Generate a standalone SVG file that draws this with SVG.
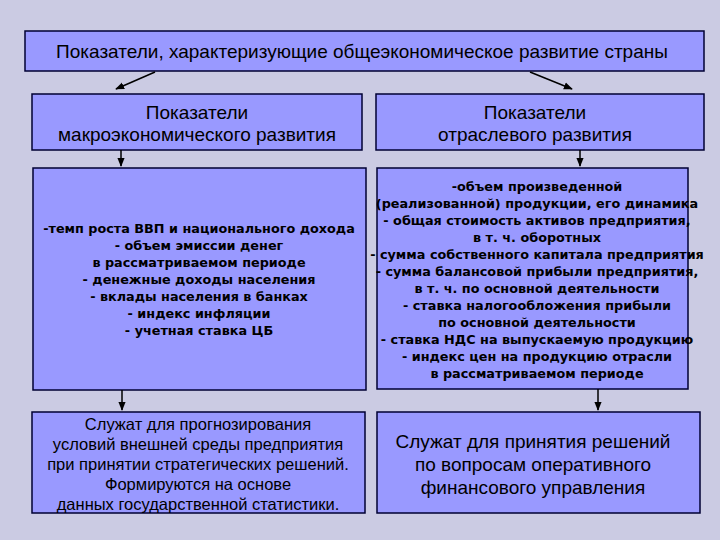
<svg xmlns="http://www.w3.org/2000/svg" width="720" height="540" viewBox="0 0 720 540">
<defs>
<marker id="ah" viewBox="0 0 10 10" refX="9" refY="5" markerWidth="6" markerHeight="6" orient="auto"><path d="M0,1 L10,5 L0,9 z" fill="#000"/></marker>
<style>
.b{fill:#9999ff;stroke:#000033;stroke-width:1.5}
.t{font-family:"Liberation Sans",Arial,sans-serif;fill:#000;text-anchor:middle}
.h{font-size:19px}
.s{font-family:"DejaVu Sans",sans-serif;font-size:12.8px;font-weight:bold}
.m{font-size:16.5px}
.c line{stroke:#000;stroke-width:1.5;marker-end:url(#ah)}
</style>
</defs>
<rect width="720" height="540" fill="#cbcbe3"/>
<g id="top"><rect class="b" x="25" y="31" width="679" height="40"/><text class="t h" x="362" y="58">Показатели, характеризующие общеэкономическое развитие страны</text></g>
<g id="macro"><rect class="b" x="32" y="94" width="330" height="56"/><text class="t h" x="197" y="119">Показатели</text><text class="t h" x="197" y="141">макроэкономического развития</text></g>
<g id="branch"><rect class="b" x="376" y="94" width="328" height="56"/><text class="t h" x="535" y="119">Показатели</text><text class="t h" x="535" y="141">отраслевого развития</text></g>
<g id="macrolist"><rect class="b" x="33" y="168" width="333" height="222"/>
<text class="t s" x="199" y="233">-темп роста ВВП и национального дохода</text>
<text class="t s" x="199" y="250">- объем эмиссии денег</text>
<text class="t s" x="199" y="267">в рассматриваемом периоде</text>
<text class="t s" x="199" y="284">- денежные доходы населения</text>
<text class="t s" x="199" y="301">- вклады населения в банках</text>
<text class="t s" x="199" y="318">- индекс инфляции</text>
<text class="t s" x="199" y="335">- учетная ставка ЦБ</text></g>
<g id="branchlist"><rect class="b" x="377" y="168" width="311" height="221"/>
<text class="t s" x="537" y="191">-объем произведенной</text>
<text class="t s" x="537" y="208">(реализованной) продукции, его динамика</text>
<text class="t s" x="537" y="225">- общая стоимость активов предприятия,</text>
<text class="t s" x="537" y="242">в т. ч. оборотных</text>
<text class="t s" x="537" y="259">- сумма собственного капитала предприятия</text>
<text class="t s" x="537" y="276">- сумма балансовой прибыли предприятия,</text>
<text class="t s" x="537" y="293">в т. ч. по основной деятельности</text>
<text class="t s" x="537" y="310">- ставка налогообложения прибыли</text>
<text class="t s" x="537" y="327">по основной деятельности</text>
<text class="t s" x="537" y="344">- ставка НДС на выпускаемую продукцию</text>
<text class="t s" x="537" y="361">- индекс цен на продукцию отрасли</text>
<text class="t s" x="537" y="378">в рассматриваемом периоде</text></g>
<g id="macrouse"><rect class="b" x="32" y="412" width="333" height="101"/>
<text class="t m" x="198" y="430">Служат для прогнозирования</text>
<text class="t m" x="198" y="450">условий внешней среды предприятия</text>
<text class="t m" x="198" y="470">при принятии стратегических решений.</text>
<text class="t m" x="198" y="490">Формируются на основе</text>
<text class="t m" x="198" y="510">данных государственной статистики.</text></g>
<g id="branchuse"><rect class="b" x="377" y="412" width="323" height="101"/>
<text class="t h" x="533" y="448">Служат для принятия решений</text>
<text class="t h" x="533" y="471">по вопросам оперативного</text>
<text class="t h" x="533" y="494">финансового управления</text></g>
<g class="c">
<line x1="155" y1="72" x2="116" y2="89"/>
<line x1="530" y1="72" x2="572" y2="89"/>
<line x1="121" y1="150" x2="121" y2="166"/>
<line x1="580" y1="150" x2="580" y2="166"/>
<line x1="122" y1="390" x2="122" y2="410"/>
<line x1="598" y1="389" x2="598" y2="410"/>
</g>
</svg>
